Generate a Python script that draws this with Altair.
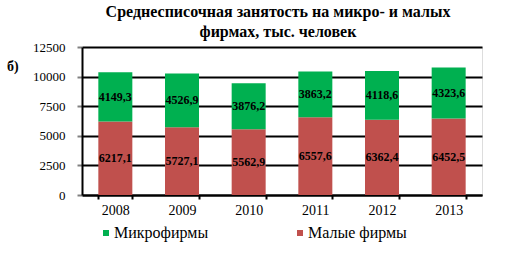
import altair as alt
import pandas as pd

years = ["2008", "2009", "2010", "2011", "2012", "2013"]
micro = [4149.3, 4526.9, 3876.2, 3863.2, 4118.6, 4323.6]
small = [6217.1, 5727.1, 5562.9, 6557.6, 6362.4, 6452.5]
series_names = ["Микрофирмы", "Малые  фирмы"]
series_colors = ["#00B050", "#C0504D"]
y_ticks = [0, 2500, 5000, 7500, 10000, 12500]
title_lines = ["Среднесписочная занятость на  микро- и малых", "фирмах, тыс. человек"]
panel_label = "б)"

rows = []
for i, yr in enumerate(years):
    rows.append({"year": yr, "series": series_names[1], "value": small[i], "ord": 0})
    rows.append({"year": yr, "series": series_names[0], "value": micro[i], "ord": 1})
df = pd.DataFrame(rows)
df["label"] = df["value"].map(lambda v: f"{v:.1f}".replace(".", ","))

serif = "Times New Roman"

base = alt.Chart(df).transform_stack(
    stack="value", groupby=["year"], as_=["v0", "v1"], sort=[alt.SortField("ord", order="ascending")]
).transform_calculate(mid="(datum.v0 + datum.v1) / 2")

x_axis = alt.Axis(labelAngle=0, labelFont=serif, labelFontSize=14, labelColor="black",
                  domainColor="black", domainWidth=2, tickColor="black", tickWidth=2,
                  tickSize=4, tickBand="extent", labelPadding=4, grid=False, title=None)
y_axis = alt.Axis(values=y_ticks, format="d", labelFont=serif, labelFontSize=13,
                  labelColor="black", domainColor="black", domainWidth=2,
                  tickColor="#808080", tickWidth=2, tickSize=5, labelPadding=12,
                  gridColor="black", gridWidth=2, gridOpacity=1, labelOverlap=False, title=None)
x_scale = alt.Scale(paddingInner=0.49, paddingOuter=0.245)
y_scale = alt.Scale(domain=[0, 12500], nice=False)

bars = base.mark_bar().encode(
    x=alt.X("year:N", sort=years, scale=x_scale, axis=x_axis),
    y=alt.Y("v0:Q", scale=y_scale, axis=y_axis),
    y2="v1:Q",
    color=alt.Color("series:N",
                    scale=alt.Scale(domain=series_names, range=series_colors),
                    legend=alt.Legend(title=None, orient="none", direction="horizontal",
                                      legendX=16, legendY=178, columns=2, columnPadding=83,
                                      padding=0,
                                      symbolType="square", symbolSize=36, symbolStrokeWidth=0,
                                      labelFont=serif, labelFontSize=16, labelColor="black",
                                      labelOffset=0)),
)

labels = base.mark_text(font=serif, fontSize=12, fontWeight="bold", color="black",
                        baseline="middle").encode(
    x=alt.X("year:N", sort=years, scale=x_scale, axis=x_axis),
    y=alt.Y("mid:Q", scale=y_scale, axis=y_axis),
    text="label:N",
)

tag = alt.Chart(pd.DataFrame({"t": [panel_label]})).mark_text(
    font=serif, fontSize=14, fontWeight="bold", color="black", align="left", baseline="middle"
).encode(x=alt.value(-75), y=alt.value(20), text="t:N")

chart = alt.layer(bars, labels, tag).properties(
    width=400, height=148,
    title=alt.TitleParams(text=title_lines, font=serif, fontSize=16, fontWeight="bold",
                          color="black", anchor="middle", lineHeight=20, offset=1, dx=-4),
    autosize=alt.AutoSizeParams(type="none"),
    padding={"left": 82, "top": 47, "right": 24, "bottom": 71},
).configure_view(stroke=None).configure(background="white", font=serif)

chart.save("out.html", embed_options={"renderer": "svg", "actions": False})
